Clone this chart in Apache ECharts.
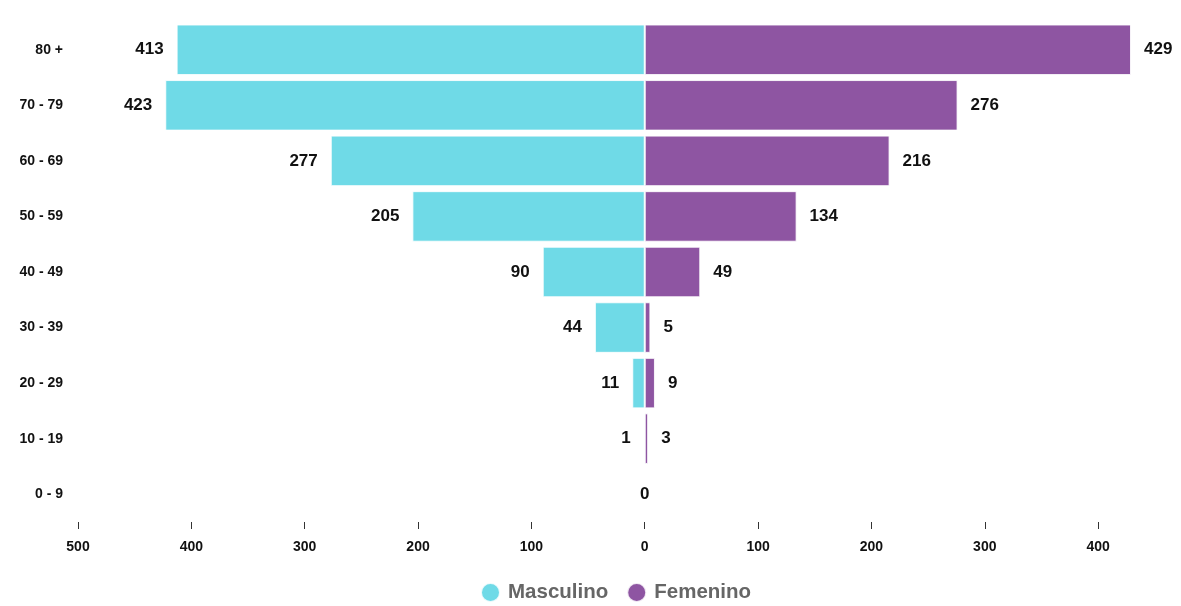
<!DOCTYPE html>
<html>
<head>
<meta charset="utf-8">
<script src="https://cdn.jsdelivr.net/npm/echarts@6/dist/echarts.min.js"></script>
<style>html,body{margin:0;padding:0;background:#fff;}#c{width:1181px;height:606px;}</style>
</head>
<body>
<div id="c"></div>
<script>
const categories = ['0 - 9','10 - 19','20 - 29','30 - 39','40 - 49','50 - 59','60 - 69','70 - 79','80 +'];
const masculino = [0, 1, 11, 44, 90, 205, 277, 423, 413];
const femenino = [0, 3, 9, 5, 49, 134, 216, 276, 429];
const seriesNames = ['Masculino', 'Femenino'];
const colors = ['#6fdae7', '#8e55a2'];

const font = '"Liberation Sans", Arial, Helvetica, sans-serif';
const chart = echarts.init(document.getElementById('c'));

const maleData = masculino.map(v => v === 0
  ? { value: -v, label: { position: 'inside', distance: 0 } }
  : { value: -v });
const femaleData = femenino.map(v => v === 0
  ? { value: v, label: { show: false } }
  : { value: v });

chart.setOption({
  animation: false,
  color: colors,
  grid: { left: 78, right: 50, top: 22, bottom: 84, containLabel: false },
  legend: {
    top: 577,
    left: 475,
    padding: 5,
    icon: 'circle',
    itemWidth: 19,
    itemHeight: 19,
    itemGap: 18,
    textStyle: { fontFamily: font, fontSize: 20.5, fontWeight: 'bold', color: '#666', padding: [0, 0, 0, 3] },
    data: seriesNames
  },
  xAxis: {
    type: 'value',
    min: -500,
    max: 429,
    interval: 100,
    axisLine: { show: false },
    splitLine: { show: false },
    axisTick: { show: true, length: 7, lineStyle: { color: '#333' } },
    axisLabel: {
      showMaxLabel: false,
      margin: 18,
      fontFamily: font, fontSize: 14, fontWeight: 'bold', color: '#111',
      formatter: v => String(Math.abs(v))
    }
  },
  yAxis: {
    type: 'category',
    data: categories,
    axisLine: { show: false },
    axisTick: { show: false },
    axisLabel: { margin: 15, fontFamily: font, fontSize: 14, fontWeight: 'bold', color: '#111' }
  },
  series: [
    {
      name: seriesNames[0], type: 'bar', stack: 'total', barWidth: '91%',
      data: maleData,
      itemStyle: { borderColor: 'rgba(255,255,255,0.85)', borderWidth: 1 },
      label: {
        show: true, position: 'left', distance: 13,
        fontFamily: font, fontSize: 17, fontWeight: 'bold', color: '#111',
        formatter: p => String(Math.abs(p.value))
      }
    },
    {
      name: seriesNames[1], type: 'bar', stack: 'total', barWidth: '91%',
      data: femaleData,
      itemStyle: { borderColor: 'rgba(255,255,255,0.85)', borderWidth: 1 },
      label: {
        show: true, position: 'right', distance: 13,
        fontFamily: font, fontSize: 17, fontWeight: 'bold', color: '#111',
        formatter: p => String(Math.abs(p.value))
      }
    }
  ]
});
</script>
</body>
</html>
